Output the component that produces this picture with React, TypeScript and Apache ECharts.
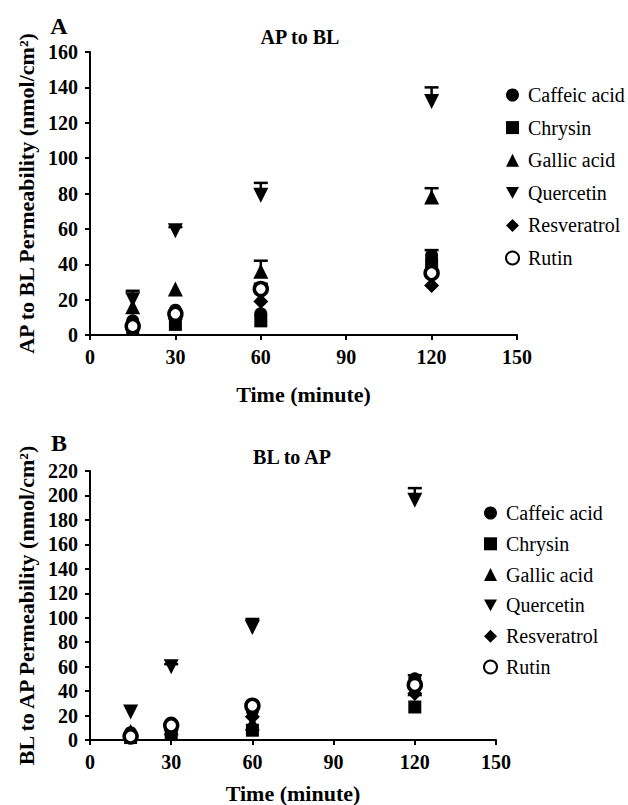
import React, { useEffect, useRef } from "react";
import * as echarts from "echarts";

const compounds = ["Caffeic acid", "Chrysin", "Gallic acid", "Quercetin", "Resveratrol", "Rutin"];
const times = [15, 30, 60, 120];

// AP to BL values (nmol/cm2)
const apblCaffeic = [8, 14, 12, 45];
const apblChrysin = [4, 6, 8, 40];
const apblGallic = [16, 26, 36, 78];
const apblQuercetin = [20, 59, 79, 132];
const apblResveratrol = [6, 9, 19, 28];
const apblRutin = [5, 12, 26, 35];
// upper error (SD)
const apblCaffeicErr = [0, 0, 0, 3];
const apblChrysinErr = [0, 0, 0, 0];
const apblGallicErr = [0, 0, 6, 5];
const apblQuercetinErr = [5, 2, 7, 8];
const apblResveratrolErr = [0, 0, 0, 0];
const apblRutinErr = [0, 0, 3, 0];

// BL to AP values (nmol/cm2)
const blapCaffeic = [6, 14, 24, 50];
const blapChrysin = [2, 5, 8, 27];
const blapGallic = [7, 10, 14, 42];
const blapQuercetin = [23, 60, 92, 196];
const blapResveratrol = [5, 8, 19, 38];
const blapRutin = [3, 12, 28, 45];
const blapCaffeicErr = [0, 0, 0, 3];
const blapChrysinErr = [0, 0, 0, 0];
const blapGallicErr = [0, 0, 0, 0];
const blapQuercetinErr = [0, 2, 7, 10];
const blapResveratrolErr = [0, 0, 0, 0];
const blapRutinErr = [0, 0, 0, 0];

const symbols = [
  "circle",
  "rect",
  "triangle",
  "path://M0,0L10,0L5,9Z",
  "diamond",
  "circle",
];
const symbolSizes = [13, 13, 15, 15, 15, 13];

const serif = "Liberation Serif";

export default function App() {
  const ref = useRef<HTMLDivElement>(null);
  useEffect(() => {
    document.body.style.margin = "0";
    const chart = echarts.init(ref.current!, null, { renderer: "svg" });

    const apVals = [apblCaffeic, apblChrysin, apblGallic, apblQuercetin, apblResveratrol, apblRutin];
    const apErrs = [apblCaffeicErr, apblChrysinErr, apblGallicErr, apblQuercetinErr, apblResveratrolErr, apblRutinErr];
    const blVals = [blapCaffeic, blapChrysin, blapGallic, blapQuercetin, blapResveratrol, blapRutin];
    const blErrs = [blapCaffeicErr, blapChrysinErr, blapGallicErr, blapQuercetinErr, blapResveratrolErr, blapRutinErr];

    const errData = (vals: number[][], errs: number[][]) => {
      const out: number[][] = [];
      vals.forEach((arr, i) =>
        arr.forEach((v, j) => {
          if (errs[i][j] > 0) out.push([times[j], v, errs[i][j]]);
        })
      );
      return out;
    };

    const renderErr = (params: any, api: any) => {
      const x = api.value(0);
      const y = api.value(1);
      const e = api.value(2);
      const p0 = api.coord([x, y]);
      const p1 = api.coord([x, y + e]);
      return {
        type: "group",
        children: [
          { type: "line", shape: { x1: p0[0], y1: p0[1], x2: p1[0], y2: p1[1] }, style: { stroke: "#000", lineWidth: 2.5 } },
          { type: "line", shape: { x1: p1[0] - 7, y1: p1[1], x2: p1[0] + 7, y2: p1[1] }, style: { stroke: "#000", lineWidth: 2.5 } },
        ],
      };
    };

    const axisCommon = {
      axisLine: { show: true, lineStyle: { color: "#000", width: 2 } },
      axisTick: { show: true, length: 5, lineStyle: { color: "#000", width: 2 } },
      splitLine: { show: false },
      axisLabel: { color: "#000", fontFamily: serif, fontWeight: "bold", fontSize: 20, margin: 12 },
      nameTextStyle: { color: "#000", fontFamily: serif, fontWeight: "bold", fontSize: 22 },
    };

    const scatterSeries = (vals: number[][], idx: number) =>
      compounds.map((name, i) => ({
        name,
        type: "scatter",
        xAxisIndex: idx,
        yAxisIndex: idx,
        symbol: symbols[i],
        symbolSize: symbolSizes[i],
        itemStyle:
          i === 5
            ? { color: "#fff", borderColor: "#000", borderWidth: 3.5, opacity: 1 }
            : { color: "#000", opacity: 1 },
        z: 3,
        data: vals[i].map((v, j) => [times[j], v]),
      }));

    const legendCommon = {
      orient: "vertical",
      data: compounds,
      itemWidth: 13,
      itemHeight: 13,
      formatter: (name: string) => `{t|${name}}`,
      textStyle: {
        color: "#000",
        fontFamily: serif,
        fontSize: 20,
        rich: {
          t: { fontFamily: serif, fontSize: 20, color: "#000", fontWeight: "normal", height: 20, padding: [0, 0, 0, 4] },
        },
      },
      selectedMode: false,
    };

    const option: any = {
      animation: false,
      textStyle: { fontFamily: serif },
      grid: [
        { left: 90, top: 52, width: 427, height: 283 },
        { left: 90, top: 471, width: 406, height: 269 },
      ],
      xAxis: [
        {
          ...axisCommon,
          type: "value",
          gridIndex: 0,
          min: 0,
          max: 150,
          interval: 30,
          name: "Time (minute)",
          nameLocation: "middle",
          nameGap: 48,
        },
        {
          ...axisCommon,
          type: "value",
          gridIndex: 1,
          min: 0,
          max: 150,
          interval: 30,
          name: "Time (minute)",
          nameLocation: "middle",
          nameGap: 42,
        },
      ],
      yAxis: [
        {
          ...axisCommon,
          type: "value",
          gridIndex: 0,
          min: 0,
          max: 160,
          interval: 20,
          name: "AP to BL Permeability (nmol/cm²)",
          nameLocation: "middle",
          nameGap: 51,
        },
        {
          ...axisCommon,
          type: "value",
          gridIndex: 1,
          min: 0,
          max: 220,
          interval: 20,
          name: "BL to AP Permeability (nmol/cm²)",
          nameLocation: "middle",
          nameGap: 51,
        },
      ],
      legend: [
        { ...legendCommon, left: 500, top: 80, itemGap: 12.6 },
        { ...legendCommon, left: 478, top: 498, itemGap: 10.8 },
      ],
      graphic: [
        { type: "text", x: 59, y: 26, style: { text: "A", font: `bold 24px ${serif}`, fill: "#000", textAlign: "center", textVerticalAlign: "middle" } },
        { type: "text", x: 300, y: 37, style: { text: "AP to BL", font: `bold 20px ${serif}`, fill: "#000", textAlign: "center", textVerticalAlign: "middle" } },
        { type: "text", x: 59, y: 443, style: { text: "B", font: `bold 24px ${serif}`, fill: "#000", textAlign: "center", textVerticalAlign: "middle" } },
        { type: "text", x: 292, y: 457, style: { text: "BL to AP", font: `bold 20px ${serif}`, fill: "#000", textAlign: "center", textVerticalAlign: "middle" } },
      ],
      series: [
        {
          type: "custom",
          name: "errA",
          xAxisIndex: 0,
          yAxisIndex: 0,
          z: 2,
          renderItem: renderErr,
          data: errData(apVals, apErrs),
        },
        {
          type: "custom",
          name: "errB",
          xAxisIndex: 1,
          yAxisIndex: 1,
          z: 2,
          renderItem: renderErr,
          data: errData(blVals, blErrs),
        },
        ...scatterSeries(apVals, 0),
        ...scatterSeries(blVals, 1),
      ],
    };
    chart.setOption(option);
    return () => chart.dispose();
  }, []);
  return <div ref={ref} style={{ width: 628, height: 805 }} />;
}
